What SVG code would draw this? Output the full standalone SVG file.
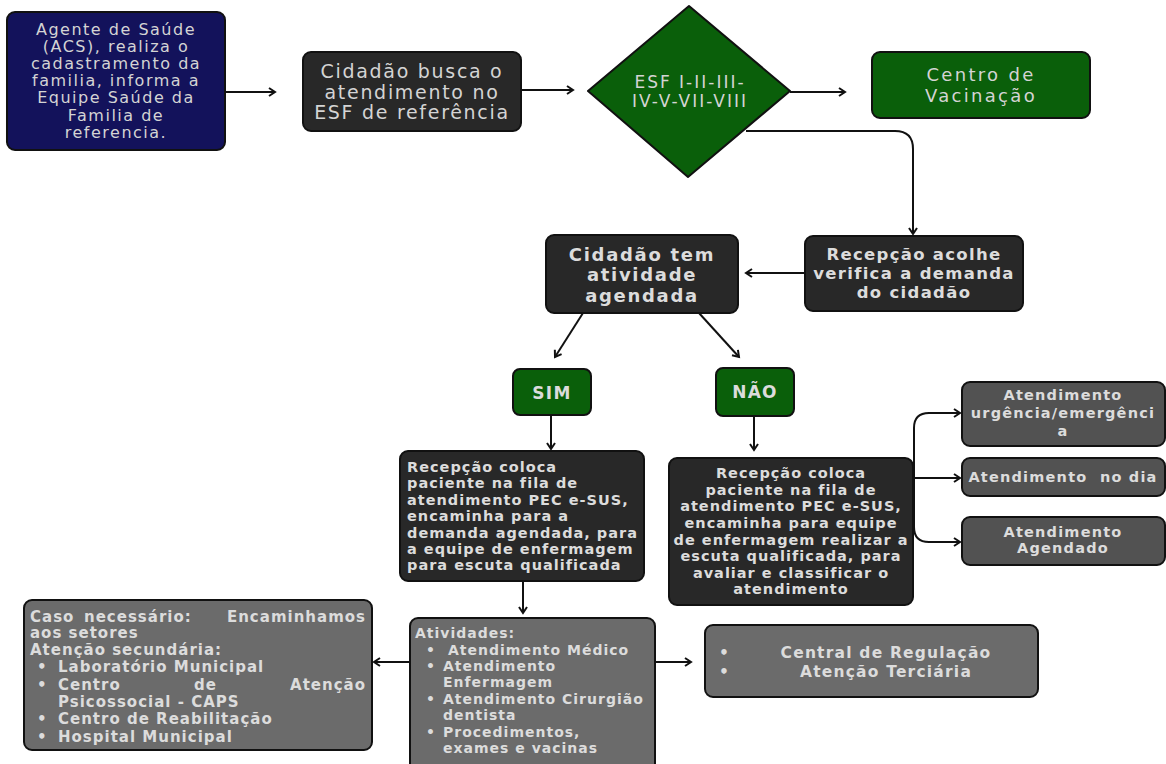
<svg xmlns="http://www.w3.org/2000/svg" width="1166" height="764" viewBox="0 0 1166 764">
  <defs>
    <marker id="arrow" markerUnits="userSpaceOnUse" markerWidth="12" markerHeight="12" viewBox="0 0 12 12" refX="9" refY="6" orient="auto">
      <path d="M3,2 L9,6 L3,10" fill="none" stroke="#111" stroke-width="2" stroke-linejoin="miter"/>
    </marker>
    <style>
      .box { stroke: #111; stroke-width: 2; }
      .navy { fill: #13125b; }
      .dark { fill: #282828; }
      .green { fill: #0a5f0a; }
      .grey { fill: #6b6b6b; }
      .mid { fill: #525252; }
      .light { font-family: "DejaVu Sans", "Open Sans", sans-serif; font-weight: 400; fill: #d4d4d4; text-anchor: middle; }
      .bold { font-family: "DejaVu Sans", "Open Sans", sans-serif; font-weight: 700; fill: #dcdcdc; }
      .c { text-anchor: middle; }
      .e { text-anchor: end; }
      .link { fill: none; stroke: #111; stroke-width: 2; marker-end: url(#arrow); }
    </style>
  </defs>

  <rect width="1166" height="764" fill="#ffffff"/>

  <!-- connectors -->
  <g id="connectors">
    <path class="link" d="M226,92 H275"/>
    <path class="link" d="M521,90 H573"/>
    <path class="link" d="M790,92 H845"/>
    <path class="link" d="M746,131 H895 Q913,131 913,149 V234"/>
    <path class="link" d="M805,273 H746"/>
    <path class="link" d="M583,313 L555,357"/>
    <path class="link" d="M699,313 L739,357"/>
    <path class="link" d="M551,415 V449"/>
    <path class="link" d="M754,416 V450"/>
    <path class="link" d="M913,478 H960"/>
    <path class="link" d="M913,478 H914 V428 Q914,413 929,413 H960"/>
    <path class="link" d="M913,478 H914 V527 Q914,542 929,542 H960"/>
    <path class="link" d="M523,581 V613"/>
    <path class="link" d="M655,662 H691"/>
    <path class="link" d="M410,662 H374"/>
  </g>

  <!-- Agente de Saúde -->
  <g id="node-acs">
    <rect class="box navy" x="7" y="12" width="218" height="138" rx="8"/>
    <g class="light" font-size="16" letter-spacing="1.5">
      <text x="116" y="35">Agente de Saúde</text>
      <text x="116" y="52">(ACS), realiza o</text>
      <text x="116" y="69">cadastramento da</text>
      <text x="116" y="86">familia, informa a</text>
      <text x="116" y="103">Equipe Saúde da</text>
      <text x="116" y="121">Familia de</text>
      <text x="116" y="138">referencia.</text>
    </g>
  </g>

  <!-- Cidadão busca -->
  <g id="node-busca">
    <rect class="box dark" x="303" y="52" width="218" height="79" rx="8"/>
    <g class="light" font-size="19" letter-spacing="1.7">
      <text x="412" y="78">Cidadão busca o</text>
      <text x="412" y="99">atendimento no</text>
      <text x="412" y="119">ESF de referência</text>
    </g>
  </g>

  <!-- ESF decision -->
  <g id="node-esf">
    <polygon class="box green" points="689,6 790,91 688,177 588,91" stroke-linejoin="round"/>
    <g class="light" font-size="17" letter-spacing="2">
      <text x="690" y="88">ESF I-II-III-</text>
      <text x="690" y="107">IV-V-VII-VIII</text>
    </g>
  </g>

  <!-- Centro de Vacinação -->
  <g id="node-vacinacao">
    <rect class="box green" x="872" y="52" width="218" height="66" rx="8"/>
    <g class="light" font-size="18" letter-spacing="2.3">
      <text x="981" y="81">Centro de</text>
      <text x="981" y="102">Vacinação</text>
    </g>
  </g>

  <!-- Recepção acolhe -->
  <g id="node-acolhe">
    <rect class="box dark" x="805" y="236" width="218" height="75" rx="8"/>
    <g class="bold c" font-size="16.5" letter-spacing="1.3">
      <text x="914" y="260">Recepção acolhe</text>
      <text x="914" y="279">verifica a demanda</text>
      <text x="914" y="298">do cidadão</text>
    </g>
  </g>

  <!-- Cidadão tem atividade agendada -->
  <g id="node-agendada">
    <rect class="box dark" x="546" y="235" width="192" height="78" rx="8"/>
    <g class="bold c" font-size="18" letter-spacing="1.7">
      <text x="642" y="261">Cidadão tem</text>
      <text x="642" y="281">atividade</text>
      <text x="642" y="302">agendada</text>
    </g>
  </g>

  <!-- SIM -->
  <g id="node-sim">
    <rect class="box green" x="513" y="369" width="78" height="46" rx="7"/>
    <text class="bold c" x="552" y="399" font-size="17" letter-spacing="1.3">SIM</text>
  </g>

  <!-- NÃO -->
  <g id="node-nao">
    <rect class="box green" x="716" y="368" width="78" height="48" rx="7"/>
    <text class="bold c" x="755" y="398" font-size="17" letter-spacing="1.3">NÃO</text>
  </g>

  <!-- Recepção coloca (agendada) -->
  <g id="node-fila-sim">
    <rect class="box dark" x="400" y="451" width="244" height="130" rx="8"/>
    <g class="bold" font-size="14.5" letter-spacing="1">
      <text x="407" y="472">Recepção coloca</text>
      <text x="407" y="488">paciente na fila de</text>
      <text x="407" y="505">atendimento PEC e-SUS,</text>
      <text x="407" y="521">encaminha para a</text>
      <text x="407" y="538">demanda agendada, para</text>
      <text x="407" y="554">a equipe de enfermagem</text>
      <text x="407" y="570">para escuta qualificada</text>
    </g>
  </g>

  <!-- Recepção coloca (não agendada) -->
  <g id="node-fila-nao">
    <rect class="box dark" x="669" y="458" width="244" height="147" rx="8"/>
    <g class="bold c" font-size="14.5" letter-spacing="1">
      <text x="791" y="478">Recepção coloca</text>
      <text x="791" y="495">paciente na fila de</text>
      <text x="791" y="511">atendimento PEC e-SUS,</text>
      <text x="791" y="528">encaminha para equipe</text>
      <text x="791" y="545">de enfermagem realizar a</text>
      <text x="791" y="561">escuta qualificada, para</text>
      <text x="791" y="578">avaliar e classificar o</text>
      <text x="791" y="594">atendimento</text>
    </g>
  </g>

  <!-- Atendimento urgência/emergência -->
  <g id="node-urgencia">
    <rect class="box mid" x="962" y="382" width="203" height="64" rx="8"/>
    <g class="bold c" font-size="14.5" letter-spacing="1.2">
      <text x="1063" y="400">Atendimento</text>
      <text x="1063" y="418">urgência/emergênci</text>
      <text x="1063" y="436">a</text>
    </g>
  </g>

  <!-- Atendimento no dia -->
  <g id="node-dia">
    <rect class="box mid" x="962" y="458" width="203" height="38" rx="8"/>
    <text class="bold c" x="1063" y="482" font-size="14.5" letter-spacing="1.2" xml:space="preserve">Atendimento  no dia</text>
  </g>

  <!-- Atendimento Agendado -->
  <g id="node-agendado">
    <rect class="box mid" x="962" y="517" width="203" height="48" rx="8"/>
    <g class="bold c" font-size="14.5" letter-spacing="1.2">
      <text x="1063" y="537">Atendimento</text>
      <text x="1063" y="553">Agendado</text>
    </g>
  </g>

  <!-- Atividades -->
  <g id="node-atividades">
    <rect class="box grey" x="410" y="618" width="245" height="160" rx="8"/>
    <g class="bold" font-size="14" letter-spacing="1">
      <text x="415" y="638">Atividades:</text>
      <text x="426" y="655">•</text>
      <text x="448" y="655">Atendimento Médico</text>
      <text x="426" y="671">•</text>
      <text x="443" y="671">Atendimento</text>
      <text x="443" y="687">Enfermagem</text>
      <text x="426" y="704">•</text>
      <text x="443" y="704">Atendimento Cirurgião</text>
      <text x="443" y="720">dentista</text>
      <text x="426" y="737">•</text>
      <text x="443" y="737">Procedimentos,</text>
      <text x="443" y="753">exames e vacinas</text>
    </g>
  </g>

  <!-- Central de Regulação -->
  <g id="node-central">
    <rect class="box grey" x="705" y="625" width="333" height="72" rx="8"/>
    <g class="bold" font-size="15.5" letter-spacing="1.2">
      <text x="719" y="658">•</text>
      <text class="c" x="886" y="658">Central de Regulação</text>
      <text x="719" y="677">•</text>
      <text class="c" x="886" y="677">Atenção Terciária</text>
    </g>
  </g>

  <!-- Caso necessário -->
  <g id="node-secundaria">
    <rect class="box grey" x="24" y="600" width="348" height="150" rx="8"/>
    <g class="bold" font-size="15" letter-spacing="1">
      <text x="30" y="622">Caso</text>
      <text x="84" y="622">necessário:</text>
      <text class="e" x="366" y="622">Encaminhamos</text>
      <text x="30" y="638">aos setores</text>
      <text x="30" y="655">Atenção secundária:</text>
      <text x="37" y="672">•</text>
      <text x="58" y="672">Laboratório Municipal</text>
      <text x="37" y="690">•</text>
      <text x="58" y="690">Centro</text>
      <text x="194" y="690">de</text>
      <text class="e" x="366" y="690">Atenção</text>
      <text x="58" y="707">Psicossocial - CAPS</text>
      <text x="37" y="724">•</text>
      <text x="58" y="724">Centro de Reabilitação</text>
      <text x="37" y="742">•</text>
      <text x="58" y="742">Hospital Municipal</text>
    </g>
  </g>
</svg>
